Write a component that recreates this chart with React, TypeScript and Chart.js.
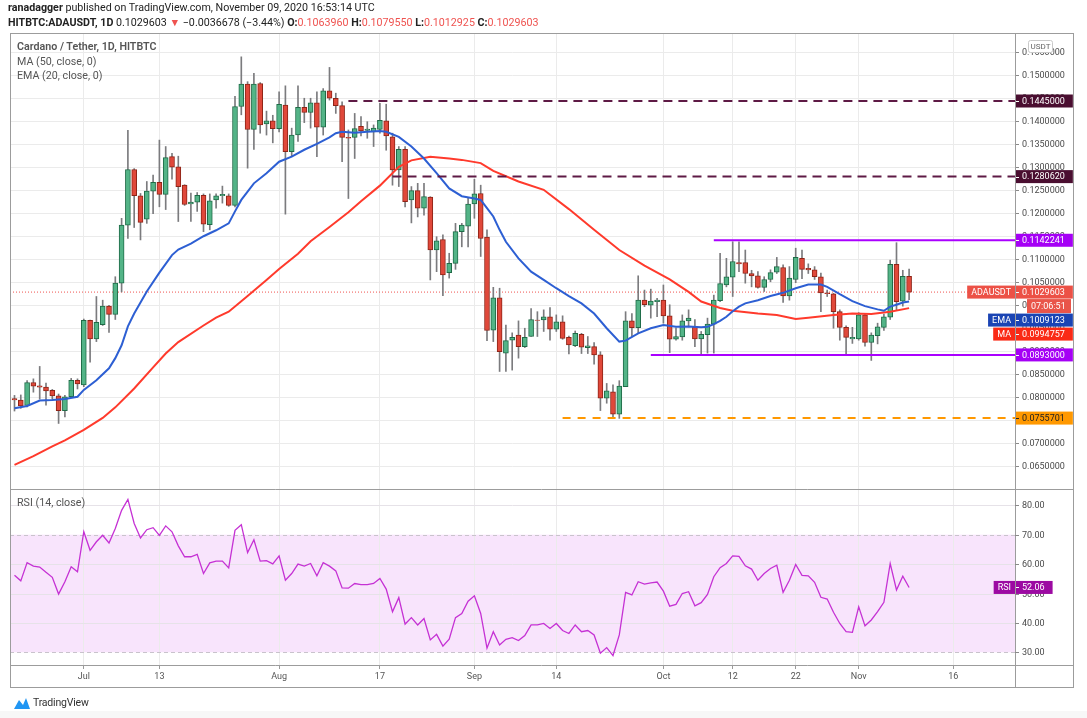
import React, { useEffect, useRef } from "react";
import { Chart, registerables } from "chart.js";

Chart.register(...registerables);

// ---------- candle data (Jun 20 2020 .. Nov 9 2020, daily) ----------
const opens = [
  0.0798, 0.0795, 0.0783, 0.0833, 0.0826, 0.0823, 0.0816, 0.0804, 0.0772, 0.0802, 0.0838,
  0.0828, 0.0968, 0.0928, 0.0959, 0.0999, 0.0981, 0.1049, 0.1175, 0.1296, 0.1239,
  0.1188, 0.1249, 0.1268, 0.1242, 0.1324, 0.1302, 0.1262, 0.1221, 0.1225, 0.1240,
  0.1176, 0.1230, 0.1239, 0.1239, 0.1218, 0.1433, 0.1482, 0.1383, 0.1483, 0.1395,
  0.1402, 0.1385, 0.1436, 0.1335, 0.1371, 0.1431, 0.1420, 0.1441, 0.1388, 0.1467,
  0.1451, 0.1435, 0.1366, 0.1366, 0.1390, 0.1381, 0.1378, 0.1383, 0.1402, 0.1367,
  0.1295, 0.1340, 0.1230, 0.1250, 0.1212, 0.1236, 0.1121, 0.1144, 0.1072, 0.1092,
  0.1161, 0.1173, 0.1221, 0.1244, 0.1149, 0.0947, 0.1017, 0.0897, 0.0925, 0.0936,
  0.0911, 0.0933, 0.0969, 0.0969, 0.0976, 0.0949, 0.0965, 0.0931, 0.0913, 0.0938,
  0.0909, 0.0911, 0.0893, 0.0799, 0.0813, 0.0764, 0.0824, 0.0967, 0.0952, 0.1012,
  0.1001, 0.1009, 0.1012, 0.0978, 0.0927, 0.0932, 0.0967, 0.0954, 0.0928, 0.0937,
  0.0960, 0.1011, 0.1045, 0.1062, 0.1094, 0.1094, 0.1070, 0.1065, 0.1040, 0.1057,
  0.1073, 0.1083, 0.1021, 0.1057, 0.1103, 0.1081, 0.1078, 0.1063, 0.1028, 0.1026,
  0.0987, 0.0953, 0.0928, 0.0928, 0.0980, 0.0920, 0.0935, 0.0953, 0.0975, 0.1090, 0.1010, 0.1063960,
];
const highs = [
  0.0805, 0.0806, 0.0837, 0.0841, 0.0868, 0.0832, 0.0818, 0.0808, 0.0805, 0.0842, 0.0841,
  0.0971, 0.0969, 0.1020, 0.1012, 0.1001, 0.1063, 0.1190, 0.1381, 0.1298, 0.1244,
  0.1270, 0.1284, 0.1360, 0.1346, 0.1331, 0.1325, 0.1263, 0.1245, 0.1246, 0.1243,
  0.1243, 0.1243, 0.1260, 0.1243, 0.1455, 0.1541, 0.1487, 0.1505, 0.1485, 0.1423,
  0.1414, 0.1465, 0.1478, 0.1386, 0.1478, 0.1451, 0.1451, 0.1465, 0.1472, 0.1518,
  0.1462, 0.1443, 0.1382, 0.1418, 0.1411, 0.1400, 0.1393, 0.1440, 0.1438, 0.1375,
  0.1346, 0.1346, 0.1259, 0.1266, 0.1266, 0.1237, 0.1150, 0.1154, 0.1114, 0.1179,
  0.1179, 0.1235, 0.1275, 0.1262, 0.1165, 0.1040, 0.1038, 0.0958, 0.0941, 0.0967,
  0.0951, 0.0994, 0.0987, 0.0991, 0.0996, 0.0980, 0.0978, 0.0934, 0.0945, 0.0940,
  0.0933, 0.0920, 0.0900, 0.0831, 0.0828, 0.0837, 0.0987, 0.0983, 0.1065, 0.1034,
  0.1036, 0.1016, 0.1045, 0.1002, 0.0952, 0.0980, 0.0991, 0.0970, 0.0944, 0.0973,
  0.1023, 0.1114, 0.1103, 0.1139, 0.1139, 0.1121, 0.1077, 0.1074, 0.1063, 0.1078,
  0.1105, 0.1089, 0.1085, 0.1125, 0.1121, 0.1091, 0.1085, 0.1071, 0.1034, 0.1027,
  0.0991, 0.0956, 0.0953, 0.0985, 0.0983, 0.0941, 0.0962, 0.0982, 0.1099, 0.1137, 0.1077, 0.1079550,
];
const lows = [
  0.0771, 0.0777, 0.0780, 0.0812, 0.0797, 0.0784, 0.0797, 0.0744, 0.0758, 0.0800, 0.0819,
  0.0824, 0.0877, 0.0922, 0.0957, 0.0942, 0.0970, 0.1030, 0.1146, 0.1170, 0.1143,
  0.1179, 0.1200, 0.1215, 0.1209, 0.1275, 0.1183, 0.1218, 0.1183, 0.1205, 0.1161,
  0.1165, 0.1212, 0.1223, 0.1216, 0.1215, 0.1415, 0.1299, 0.1340, 0.1375, 0.1371,
  0.1354, 0.1378, 0.1199, 0.1324, 0.1357, 0.1398, 0.1386, 0.1324, 0.1371, 0.1447,
  0.1418, 0.1313, 0.1233, 0.1320, 0.1369, 0.1364, 0.1346, 0.1375, 0.1338, 0.1262,
  0.1259, 0.1215, 0.1180, 0.1193, 0.1197, 0.1056, 0.1074, 0.1022, 0.1060, 0.1079,
  0.1128, 0.1128, 0.1190, 0.1107, 0.0924, 0.0922, 0.0857, 0.0857, 0.0860, 0.0886,
  0.0909, 0.0933, 0.0933, 0.0944, 0.0925, 0.0944, 0.0927, 0.0895, 0.0911, 0.0896,
  0.0896, 0.0873, 0.0772, 0.0788, 0.0755, 0.0755, 0.0824, 0.0933, 0.0940, 0.0998,
  0.0973, 0.0976, 0.0962, 0.0898, 0.0925, 0.0925, 0.0954, 0.0911, 0.0893, 0.0897,
  0.0897, 0.1009, 0.1041, 0.1020, 0.1074, 0.1049, 0.1041, 0.1038, 0.1031, 0.1052,
  0.1070, 0.1007, 0.1012, 0.1050, 0.1059, 0.1070, 0.1057, 0.0987, 0.1020, 0.0951,
  0.0925, 0.0893, 0.0918, 0.0925, 0.0912, 0.0881, 0.0917, 0.0946, 0.0970, 0.0991, 0.0999, 0.1012925,
];
const closes = [
  0.0795, 0.0782, 0.0833, 0.0825, 0.0823, 0.0815, 0.0804, 0.0772, 0.0802, 0.0838, 0.0830,
  0.0968, 0.0928, 0.0964, 0.0999, 0.0981, 0.1049, 0.1175, 0.1296, 0.1239, 0.1181,
  0.1249, 0.1268, 0.1242, 0.1322, 0.1301, 0.1259, 0.1220, 0.1225, 0.1240, 0.1177,
  0.1228, 0.1239, 0.1242, 0.1218, 0.1433, 0.1482, 0.1383, 0.1482, 0.1393, 0.1402,
  0.1385, 0.1438, 0.1335, 0.1371, 0.1431, 0.1420, 0.1441, 0.1388, 0.1467, 0.1451,
  0.1435, 0.1366, 0.1364, 0.1385, 0.1380, 0.1384, 0.1386, 0.1403, 0.1369, 0.1295,
  0.1340, 0.1226, 0.1250, 0.1212, 0.1237, 0.1121, 0.1141, 0.1067, 0.1092, 0.1161,
  0.1175, 0.1221, 0.1243, 0.1146, 0.0946, 0.1017, 0.0900, 0.0924, 0.0931, 0.0911,
  0.0931, 0.0970, 0.0968, 0.0976, 0.0949, 0.0965, 0.0929, 0.0915, 0.0940, 0.0910,
  0.0913, 0.0893, 0.0799, 0.0815, 0.0764, 0.0825, 0.0967, 0.0952, 0.1012, 0.1002,
  0.1010, 0.1012, 0.0978, 0.0927, 0.0933, 0.0967, 0.0973, 0.0928, 0.0938, 0.0960,
  0.1012, 0.1048, 0.1063, 0.1096, 0.1091, 0.1070, 0.1065, 0.1040, 0.1057, 0.1072,
  0.1085, 0.1021, 0.1060, 0.1105, 0.1079, 0.1078, 0.1063, 0.1028, 0.1026, 0.0987,
  0.0953, 0.0931, 0.0931, 0.0980, 0.0920, 0.0936, 0.0954, 0.0976, 0.1090, 0.1009, 0.1064, 0.1029603,
];

// ---------- moving averages (candle index, value) ----------
const emaIdx = [0, 2, 4, 6, 8, 10, 11, 13, 15, 16, 17, 18, 19, 21, 23, 25, 26, 28, 30, 32, 34, 35, 36, 38, 40, 42, 44, 46, 48, 50, 51, 52, 54, 56, 58, 59, 61, 63, 65, 67, 69, 71, 73, 74, 75, 76, 77, 78, 80, 82, 84, 86, 88, 90, 92, 94, 96, 97, 99, 101, 103, 105, 107, 109, 110, 111, 112, 113, 114, 115, 116, 118, 120, 122, 124, 126, 128, 129, 131, 133, 135, 137, 138, 139, 140, 141, 142];
const emaVals = [0.0777, 0.0782, 0.0794, 0.0795, 0.0797, 0.0802, 0.0817, 0.0838, 0.0864, 0.0886, 0.0914, 0.0955, 0.0983, 0.1031, 0.1072, 0.1110, 0.1122, 0.1135, 0.1151, 0.1164, 0.1179, 0.1205, 0.1230, 0.1266, 0.1288, 0.1313, 0.1324, 0.1339, 0.1352, 0.1366, 0.1375, 0.1378, 0.1376, 0.1378, 0.1380, 0.1378, 0.1367, 0.1346, 0.1320, 0.1288, 0.1255, 0.1238, 0.1233, 0.1230, 0.1212, 0.1194, 0.1165, 0.1139, 0.1103, 0.1074, 0.1056, 0.1038, 0.1021, 0.1005, 0.0983, 0.0951, 0.0922, 0.0924, 0.0940, 0.0951, 0.0958, 0.0954, 0.0955, 0.0953, 0.0954, 0.0960, 0.0967, 0.0976, 0.0988, 0.0998, 0.1005, 0.1012, 0.1021, 0.1028, 0.1038, 0.1046, 0.1046, 0.1041, 0.1025, 0.1010, 0.0999, 0.0992, 0.0989, 0.0998, 0.1002, 0.1007, 0.1009123];
const maIdx = [0, 3, 6, 8, 11, 14, 16, 19, 22, 24, 26, 30, 32, 34, 37, 40, 42, 45, 47, 50, 53, 55, 58, 61, 63, 66, 69, 71, 74, 76, 80, 84, 88, 92, 96, 100, 104, 107, 109, 112, 114, 118, 121, 124, 126, 130, 133, 136, 139, 142];
const maVals = [0.0654, 0.0673, 0.0694, 0.0707, 0.0730, 0.0756, 0.0779, 0.0820, 0.0866, 0.0896, 0.0921, 0.0957, 0.0974, 0.0987, 0.1021, 0.1056, 0.1080, 0.1113, 0.1140, 0.1171, 0.1203, 0.1227, 0.1261, 0.1302, 0.1316, 0.1324, 0.1320, 0.1317, 0.1310, 0.1293, 0.1270, 0.1252, 0.1210, 0.1165, 0.1121, 0.1087, 0.1057, 0.1030, 0.1009, 0.0995, 0.0989, 0.0983, 0.0980, 0.0971, 0.0974, 0.0980, 0.0983, 0.0982, 0.0987, 0.0994757];

// ---------- RSI (14) per candle ----------
const rsiVals = [
  56.2, 54.3, 60.5, 59.3, 59.0, 57.2, 55.5, 49.8, 54.0, 59.1, 57.4,
  71.0, 64.7, 67.6, 69.8, 67.2, 72.1, 78.3, 82.0, 73.8, 68.9,
  71.7, 72.4, 69.8, 73.0, 71.0, 66.2, 62.5, 62.5, 63.3, 56.8,
  60.4, 61.0, 61.0, 58.7, 71.5, 73.4, 63.9, 68.3, 61.0, 61.2,
  60.1, 62.8, 54.5, 56.8, 60.0, 59.3, 60.2, 56.0, 60.5, 59.3,
  57.7, 51.9, 51.8, 53.4, 53.0, 53.0, 53.4, 55.1, 51.5, 43.8,
  48.6, 39.6, 41.8, 39.3, 41.5, 34.2, 36.1, 32.1, 34.5, 41.8,
  43.2, 47.4, 49.2, 43.2, 31.4, 37.0, 32.5, 34.4, 35.0, 34.0,
  35.7, 39.3, 39.3, 39.8, 38.1, 39.8, 37.4, 36.4, 39.3, 37.0,
  37.4, 35.9, 29.7, 31.6, 28.9, 35.9, 50.4, 49.5, 54.0, 53.2,
  53.6, 53.9, 50.8, 45.7, 46.3, 50.0, 50.6, 45.8, 46.9, 49.7,
  55.7, 58.8, 60.2, 62.8, 62.6, 59.4, 58.3, 54.5, 56.8, 58.5,
  59.6, 50.4, 54.5, 59.9, 56.2, 56.0, 53.8, 48.7, 48.1, 43.6,
  39.8, 37.0, 36.8, 45.5, 39.0, 41.0, 43.8, 47.0, 60.2, 51.2, 55.9, 52.06,
];

// ---------- horizontal levels ----------
const levelValues = [0.1445, 0.128062, 0.1142241, 0.0893, 0.0755701];
const levelStartIdx = [53, 60, 111, 101, 87];

// ---------- axes ----------
const timeTickIdx = [11, 23, 42, 58, 73, 86, 103, 114, 124, 134, 149];
const timeTickLabels = ["Jul", "13", "Aug", "17", "Sep", "14", "Oct", "12", "22", "Nov", "16"];
const priceTicks = [0.065, 0.07, 0.075, 0.08, 0.085, 0.09, 0.095, 0.1, 0.105, 0.11, 0.115, 0.12, 0.125, 0.13, 0.135, 0.14, 0.145, 0.15, 0.155];
const rsiTicks = [30, 40, 50, 60, 70, 80];

const X_MIN = -0.714;
const X_MAX = 158.81;
const P_MIN = 0.021892;
const P_MAX = 0.159283;
const R_MIN = 25.68;
const R_MAX = 240.65;

const levelStyles = [
  { color: "#5e1a45", dash: [9, 6], tag: "#4a0e30", fg: "#ffffff" },
  { color: "#5e1a45", dash: [9, 6], tag: "#4a0e30", fg: "#ffffff" },
  { color: "#aa00ff", dash: [], tag: "#a500f5", fg: "#ffffff" },
  { color: "#aa00ff", dash: [], tag: "#a500f5", fg: "#ffffff" },
  { color: "#ff9800", dash: [8, 7], tag: "#ff9800", fg: "#222222" },
];

const FONT = "Roboto, 'Open Sans', sans-serif";

export default function App() {
  const ref = useRef<HTMLCanvasElement>(null);

  useEffect(() => {
    const canvas = ref.current;
    if (!canvas) return;
    const n = opens.length;
    const last = n - 1;
    const up = closes.map((c, i) => c >= opens[i]);

    const wickData = opens.map((_, i) => ({ x: i, y: [lows[i], highs[i]] }));
    const bodyData = opens.map((_, i) => ({ x: i, y: [opens[i], closes[i]] }));

    const levelSets = levelValues.map((v, k) => ({
      type: "line" as const,
      data: [
        { x: levelStartIdx[k], y: v },
        { x: X_MAX, y: v },
      ],
      borderColor: levelStyles[k].color,
      borderWidth: 2,
      borderDash: levelStyles[k].dash,
      pointRadius: 0,
      xAxisID: "x",
      yAxisID: "y",
      order: 0,
    }));

    const lastPrice = closes[last];
    const lastEma = emaVals[emaVals.length - 1];
    const lastMa = maVals[maVals.length - 1];
    const lastRsi = rsiVals[last];

    const deco = {
      id: "deco",
      beforeDraw(chart: any) {
        const { ctx, chartArea: a, scales } = chart;
        const yr = scales.yr;
        ctx.save();
        ctx.fillStyle = "#ffffff";
        ctx.fillRect(0, 0, chart.width, chart.height);
        const t = yr.getPixelForValue(70);
        const b = yr.getPixelForValue(30);
        ctx.fillStyle = "#f8e4fc";
        ctx.fillRect(a.left, t, a.right - a.left, b - t);
        ctx.restore();
      },
      beforeDatasetsDraw(chart: any) {
        const { ctx, chartArea: a, scales } = chart;
        const yr = scales.yr;
        ctx.save();
        rsiTicks.forEach((v) => {
          const y = Math.round(yr.getPixelForValue(v)) + 0.5;
          ctx.beginPath();
          if (v === 30 || v === 70) {
            ctx.setLineDash([4, 3]);
            ctx.strokeStyle = "#c9c3cc";
          } else {
            ctx.setLineDash([]);
            ctx.strokeStyle = "#e6e2e8";
          }
          ctx.lineWidth = 1;
          ctx.moveTo(a.left, y);
          ctx.lineTo(a.right, y);
          ctx.stroke();
        });
        ctx.restore();
      },
      afterDraw(chart: any) {
        const { ctx, chartArea: a, scales } = chart;
        const y = scales.y;
        const yr = scales.yr;
        const frameL = 10;
        const frameR = 1073;
        const frameT = 33;
        const frameB = 687;
        ctx.save();
        // frame and separators
        ctx.strokeStyle = "#9c9c9c";
        ctx.lineWidth = 1;
        ctx.setLineDash([]);
        ctx.strokeRect(frameL + 0.5, frameT + 0.5, frameR - frameL, frameB - frameT);
        const sepY = 489.5;
        ctx.beginPath();
        ctx.moveTo(frameL, sepY);
        ctx.lineTo(frameR, sepY);
        ctx.moveTo(frameL, a.bottom + 0.5);
        ctx.lineTo(frameR, a.bottom + 0.5);
        ctx.moveTo(a.right + 0.5, frameT);
        ctx.lineTo(a.right + 0.5, frameB);
        ctx.stroke();

        // RSI axis labels
        ctx.font = `9px ${FONT}`;
        ctx.textBaseline = "middle";
        ctx.textAlign = "left";
        rsiTicks.forEach((v) => {
          const py = Math.round(yr.getPixelForValue(v)) + 0.5;
          ctx.strokeStyle = "#8a8a8a";
          ctx.beginPath();
          ctx.moveTo(a.right, py);
          ctx.lineTo(a.right + 4, py);
          ctx.stroke();
          ctx.fillStyle = "#4a4a4a";
          ctx.fillText(v.toFixed(2), a.right + 7, py);
        });

        const H = 13;
        const tag = (cy: number, text: string, bg: string, fg: string, left?: { text: string; bg: string }) => {
          ctx.font = `9px ${FONT}`;
          const w = ctx.measureText(text).width + 14;
          ctx.fillStyle = bg;
          ctx.fillRect(a.right + 1, cy - H / 2, w, H);
          ctx.strokeStyle = fg;
          ctx.beginPath();
          ctx.moveTo(a.right + 1, Math.round(cy) + 0.5);
          ctx.lineTo(a.right + 4, Math.round(cy) + 0.5);
          ctx.stroke();
          ctx.fillStyle = fg;
          ctx.textAlign = "left";
          ctx.fillText(text, a.right + 7, cy + 0.5);
          if (left) {
            const lw = ctx.measureText(left.text).width + 8;
            ctx.fillStyle = left.bg;
            ctx.fillRect(a.right - lw, cy - H / 2, lw, H);
            ctx.fillStyle = "#ffffff";
            ctx.textAlign = "center";
            ctx.fillText(left.text, a.right - lw / 2, cy + 0.5);
          }
        };

        // level tags
        levelValues.forEach((v, k) => {
          tag(y.getPixelForValue(v), v.toFixed(7), levelStyles[k].tag, levelStyles[k].fg);
        });

        // stacked tags: last price, countdown, EMA, MA
        const pY = y.getPixelForValue(lastPrice);
        tag(pY, lastPrice.toFixed(7), "#ec5146", "#ffffff", { text: "ADAUSDT", bg: "#ec5146" });
        const cdY = pY + 14;
        ctx.fillStyle = "#e9554a";
        ctx.fillRect(a.right + 12, cdY - 7, 44, 14);
        ctx.fillStyle = "#ffffff";
        ctx.textAlign = "left";
        ctx.fillText("07:06:51", a.right + 16, cdY + 0.5);
        const eY = Math.max(y.getPixelForValue(lastEma), cdY + 14);
        tag(eY, lastEma.toFixed(7), "#1a44b4", "#ffffff", { text: "EMA", bg: "#1a44b4" });
        const mY = Math.max(y.getPixelForValue(lastMa), eY + 14);
        tag(mY, lastMa.toFixed(7), "#fa2a16", "#ffffff", { text: "MA", bg: "#fa2a16" });

        // RSI tag
        tag(yr.getPixelForValue(lastRsi), lastRsi.toFixed(2), "#9c0aa2", "#ffffff", { text: "RSI", bg: "#9c0aa2" });

        // USDT box
        ctx.fillStyle = "#ffffff";
        ctx.strokeStyle = "#c9c9c9";
        ctx.beginPath();
        (ctx as any).roundRect(1028.5, 40.5, 24, 12, 2);
        ctx.fill();
        ctx.stroke();
        ctx.fillStyle = "#666666";
        ctx.textAlign = "center";
        ctx.font = `8px ${FONT}`;
        ctx.fillText("USDT", 1040.5, 47);
        ctx.restore();
      },
    };

    const chart = new Chart(canvas, {
      type: "line",
      data: {
        datasets: [
          ...levelSets,
          {
            type: "line",
            data: [
              { x: X_MIN, y: lastPrice },
              { x: X_MAX, y: lastPrice },
            ],
            borderColor: "#ef5350",
            borderWidth: 1,
            borderDash: [1, 2],
            pointRadius: 0,
            xAxisID: "x",
            yAxisID: "y",
            order: 3,
          },
          {
            type: "line",
            data: emaIdx.map((x, k) => ({ x, y: emaVals[k] })),
            borderColor: "#2d5fd3",
            borderWidth: 2,
            pointRadius: 0,
            tension: 0,
            xAxisID: "x",
            yAxisID: "y",
            order: 0,
          },
          {
            type: "line",
            data: maIdx.map((x, k) => ({ x, y: maVals[k] })),
            borderColor: "#ff3a2c",
            borderWidth: 2,
            pointRadius: 0,
            tension: 0,
            xAxisID: "x",
            yAxisID: "y",
            order: 0,
          },
          {
            type: "bar",
            data: bodyData as any,
            backgroundColor: up.map((u) => (u ? "#53b487" : "#e0483a")),
            borderColor: up.map((u) => (u ? "#1f6b47" : "#8e2417")),
            borderWidth: 1,
            borderSkipped: false,
            barThickness: 5,
            grouped: false,
            xAxisID: "x",
            yAxisID: "y",
            order: 1,
          },
          {
            type: "bar",
            data: wickData as any,
            backgroundColor: "#7b7b7e",
            borderWidth: 0,
            barThickness: 1,
            grouped: false,
            xAxisID: "x",
            yAxisID: "y",
            order: 2,
          },
          {
            type: "line",
            data: rsiVals.map((v, i) => ({ x: i, y: v })),
            borderColor: "#c531d4",
            borderWidth: 1.3,
            pointRadius: 0,
            tension: 0,
            xAxisID: "x",
            yAxisID: "yr",
            order: 0,
          },
        ] as any,
      },
      options: {
        animation: false,
        responsive: false,
        devicePixelRatio: 1,
        layout: { padding: { left: 10, top: 33, right: 14, bottom: 31 } },
        plugins: { legend: { display: false }, tooltip: { enabled: false } },
        scales: {
          x: {
            type: "linear",
            min: X_MIN,
            max: X_MAX,
            offset: false,
            afterBuildTicks: (s: any) => {
              s.ticks = timeTickIdx.map((v) => ({ value: v }));
            },
            afterFit: (s: any) => {
              s.height = 22;
            },
            ticks: {
              autoSkip: false,
              maxRotation: 0,
              padding: 2,
              color: "#555555",
              font: { family: FONT, size: 9 },
              callback: (v: any) => {
                const k = timeTickIdx.indexOf(Number(v));
                return k >= 0 ? timeTickLabels[k] : "";
              },
            },
            grid: { color: "#ebebeb", tickColor: "#9a9a9a", tickLength: 4, offset: false },
            border: { display: false },
          },
          y: {
            type: "linear",
            position: "right",
            min: P_MIN,
            max: P_MAX,
            beginAtZero: false,
            afterBuildTicks: (s: any) => {
              s.ticks = priceTicks.map((v) => ({ value: v }));
            },
            afterFit: (s: any) => {
              s.width = 58;
            },
            ticks: {
              autoSkip: false,
              padding: 3,
              color: "#4a4a4a",
              font: { family: FONT, size: 9 },
              callback: (v: any) => Number(v).toFixed(7),
            },
            grid: { color: "#ebebeb", tickColor: "#8a8a8a", tickLength: 4 },
            border: { display: false },
          },
          yr: {
            type: "linear",
            position: "right",
            display: false,
            min: R_MIN,
            max: R_MAX,
            beginAtZero: false,
          },
        },
      } as any,
      plugins: [deco],
    });
    return () => chart.destroy();
  }, []);

  const red = "#ef5350";
  const legendStyle: React.CSSProperties = {
    position: "absolute",
    left: 17,
    fontFamily: FONT,
    fontSize: 10.7,
    color: "#555",
    whiteSpace: "nowrap",
    lineHeight: "12px",
  };

  return (
    <div style={{ position: "absolute", left: 0, top: 0, width: 1087, height: 718, background: "#fff", overflow: "hidden" }}>
      <canvas ref={ref} width={1087} height={718} style={{ position: "absolute", left: 0, top: 0, width: 1087, height: 718 }} />
      <div style={{ position: "absolute", left: 8, top: 1, fontFamily: FONT, fontSize: 10.7, color: "#222", whiteSpace: "nowrap", lineHeight: "13px" }}>
        <b>ranadagger</b> published on TradingView.com, November 09, 2020 16:53:14 UTC
      </div>
      <div style={{ position: "absolute", left: 8, top: 16, fontFamily: FONT, fontSize: 10.7, color: "#222", whiteSpace: "nowrap", lineHeight: "13px" }}>
        <b>HITBTC:ADAUSDT, 1D</b> 0.1029603 <span style={{ color: red }}>▼</span> −0.0036678 (−3.44%) <b>O:</b>
        <span style={{ color: red }}>0.1063960</span> <b>H:</b>
        <span style={{ color: red }}>0.1079550</span> <b>L:</b>
        <span style={{ color: red }}>0.1012925</span> <b>C:</b>
        <span style={{ color: red }}>0.1029603</span>
      </div>
      <div style={{ ...legendStyle, top: 41, fontWeight: 600 }}>Cardano / Tether, 1D, HITBTC</div>
      <div style={{ ...legendStyle, top: 56 }}>MA (50, close, 0)</div>
      <div style={{ ...legendStyle, top: 70 }}>EMA (20, close, 0)</div>
      <div style={{ ...legendStyle, top: 497 }}>RSI (14, close)</div>
      <div style={{ position: "absolute", left: 14, top: 696, display: "flex", alignItems: "center", gap: 3 }}>
        <svg width="16" height="12" viewBox="0 0 16 12">
          <path d="M0 12 L5 3 L9 8 L12 1 L16 12 Z" fill="#2196f3" />
        </svg>
        <span style={{ fontFamily: FONT, fontSize: 10.5, color: "#333", letterSpacing: -0.2 }}>TradingView</span>
      </div>
      <div style={{ position: "absolute", left: 0, top: 711, width: 1087, height: 7, background: "#f7f7f7" }} />
    </div>
  );
}
